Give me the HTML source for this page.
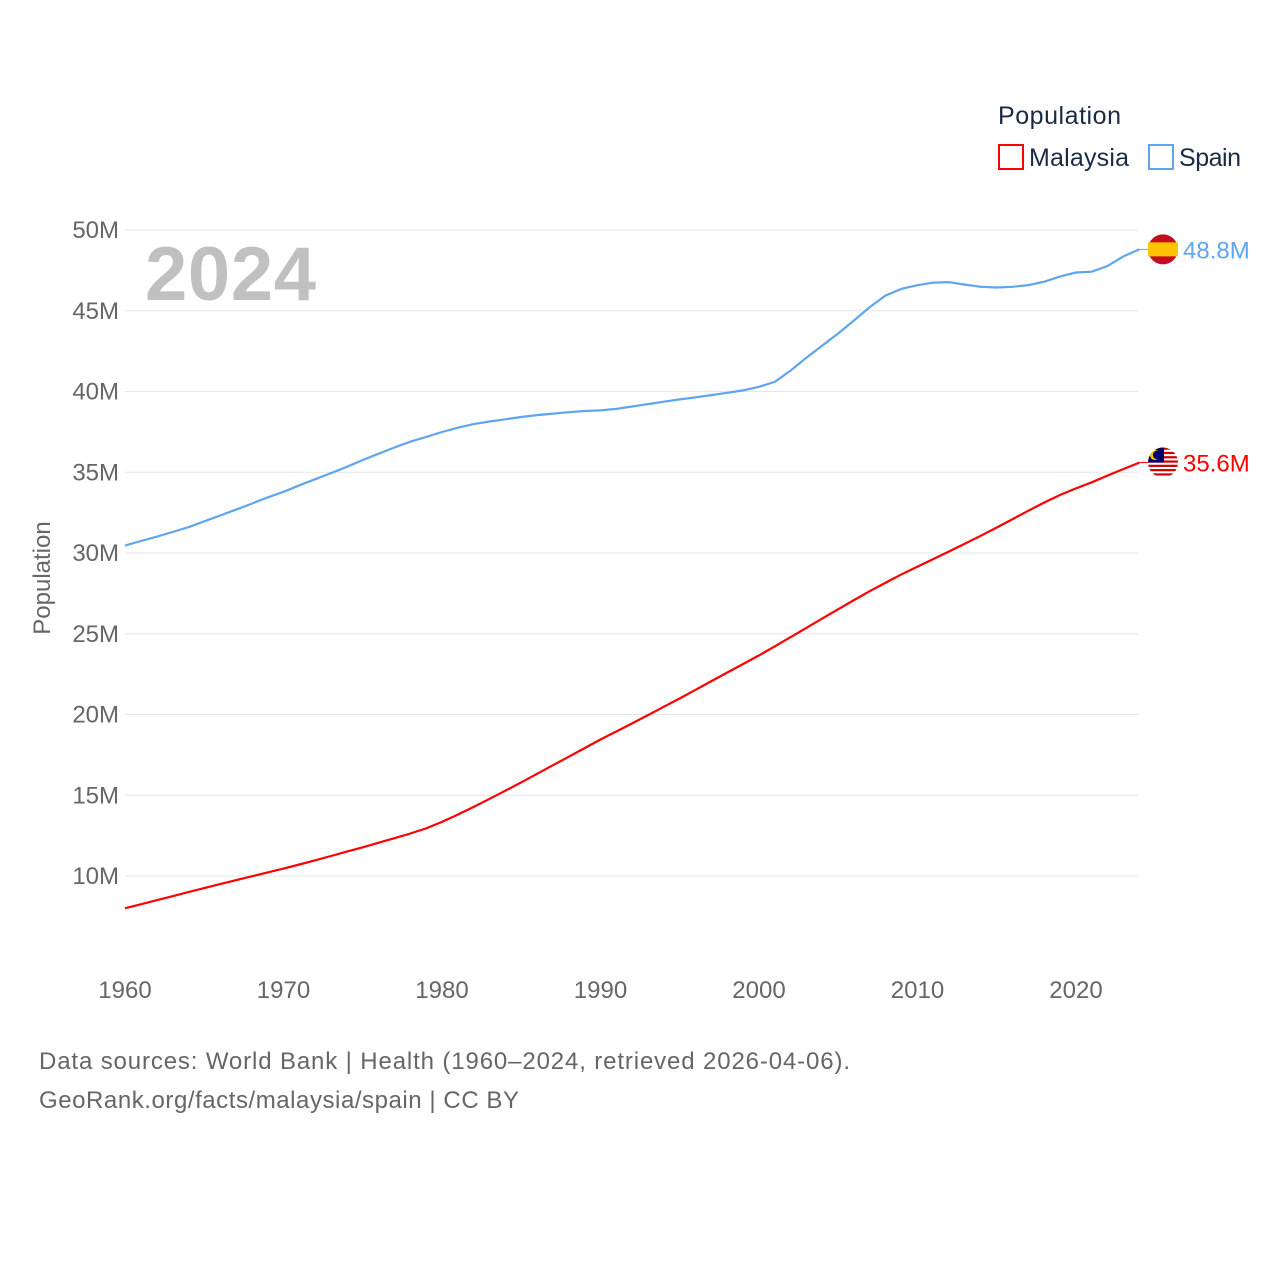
<!DOCTYPE html>
<html><head><meta charset="utf-8"><style>
body{margin:0;background:#fff;font-family:"Liberation Sans",sans-serif}
svg text{font-family:"Liberation Sans",sans-serif}
</style></head><body>
<svg id="chart" width="1280" height="1280" viewBox="0 0 1280 1280" xmlns="http://www.w3.org/2000/svg">
<rect width="1280" height="1280" fill="#fff"/>
<g id="grid"></g><g id="yticks"></g><g id="xticks"></g><g id="lines"></g>
<text x="145" y="300" font-size="76" font-weight="bold" fill="#c0c0c0" textLength="171">2024</text>
<text transform="translate(50,578) rotate(-90)" text-anchor="middle" font-size="24" fill="#666">Population</text>
<text x="998" y="124" font-size="25" fill="#1a2a44" textLength="123">Population</text>
<g><rect x="999" y="145" width="24" height="24" fill="none" stroke="#f00" stroke-width="2"/><text x="1029" y="166" font-size="25" fill="#1a2a44" textLength="100">Malaysia</text></g>
<g><rect x="1149" y="145" width="24" height="24" fill="none" stroke="#5ea5ee" stroke-width="2"/><text x="1179" y="166" font-size="25" fill="#1a2a44" textLength="62">Spain</text></g>
<text x="39" y="1069" font-size="24" fill="#666" textLength="811">Data sources: World Bank | Health (1960–2024, retrieved 2026-04-06).</text>
<text x="39" y="1108" font-size="24" fill="#666" textLength="480">GeoRank.org/facts/malaysia/spain | CC BY</text>
</svg>
<script>
const years=[];for(let y=1960;y<=2024;y++)years.push(y);
const spain=[30.46,30.74,31.01,31.30,31.60,31.96,32.32,32.68,33.06,33.44,33.79,34.19,34.57,34.95,35.34,35.76,36.15,36.53,36.89,37.19,37.49,37.76,37.98,38.14,38.28,38.42,38.54,38.63,38.72,38.79,38.83,38.92,39.07,39.22,39.37,39.51,39.64,39.78,39.92,40.07,40.29,40.60,41.30,42.10,42.85,43.60,44.40,45.23,45.95,46.36,46.58,46.74,46.77,46.62,46.48,46.44,46.48,46.59,46.80,47.13,47.37,47.42,47.78,48.37,48.80];
const malaysia=[8.00,8.25,8.50,8.75,9.00,9.25,9.50,9.74,9.98,10.22,10.46,10.71,10.97,11.24,11.51,11.78,12.06,12.34,12.63,12.95,13.35,13.80,14.28,14.78,15.28,15.80,16.33,16.86,17.39,17.92,18.45,18.95,19.45,19.96,20.48,21.00,21.53,22.07,22.60,23.13,23.66,24.22,24.79,25.37,25.95,26.52,27.09,27.64,28.17,28.68,29.16,29.63,30.10,30.58,31.07,31.58,32.10,32.62,33.13,33.60,34.00,34.38,34.80,35.20,35.60];
const yTickVals=[10,15,20,25,30,35,40,45,50];
const yTickLabels=["10M","15M","20M","25M","30M","35M","40M","45M","50M"];
const xTickVals=[1960,1970,1980,1990,2000,2010,2020];
const NS="http://www.w3.org/2000/svg";
const X=y=>125+(y-1960)*15.85;
const Y=v=>1037.5-v*16.15;
function mk(tag,attrs,parent){const e=document.createElementNS(NS,tag);for(const k in attrs)e.setAttribute(k,attrs[k]);parent.appendChild(e);return e;}
const grid=document.getElementById('grid'),yt=document.getElementById('yticks'),xt=document.getElementById('xticks'),lines=document.getElementById('lines');
yTickVals.forEach((v,i)=>{
 const l=mk('line',{x1:125,x2:1138,y1:Y(v),y2:Y(v),stroke:'#e6e6e6','stroke-width':1},grid);
 
 
 const t=mk('text',{x:119,y:Y(v)+8,'text-anchor':'end','font-size':24,fill:'#666'},yt);
 t.textContent=yTickLabels[i];
 
 
});
xTickVals.forEach(v=>{
 const t=mk('text',{x:X(v),y:998,'text-anchor':'middle','font-size':24,fill:'#666'},xt);
 t.textContent=String(v);
 
 
});
function series(vals,color,name){
 const d=vals.map((v,i)=>(i?'L':'M')+X(years[i]).toFixed(1)+','+Y(v).toFixed(1)).join(' ');
 const p=mk('path',{d:d,fill:'none',stroke:color,'stroke-width':2.2},lines);
 
 
 const last=vals[vals.length-1],lx=X(years[years.length-1]),ly=Y(last);
 mk('line',{x1:lx,x2:1150,y1:ly,y2:ly,stroke:color,'stroke-width':1},lines);
 const t=mk('text',{x:1183,y:ly+9,'font-size':24,fill:color},lines);
 t.textContent=last.toFixed(1)+'M';
 
 
 return ly;
}
const sy=series(spain,'#5ea5ee','spain');
const my=series(malaysia,'#ff0000','malaysia');
const fs=mk('g',{},lines);


mk('circle',{cx:1163,cy:sy,r:15,fill:'#c60b1e'},fs);
mk('rect',{x:1148,y:sy-7,width:30,height:14,fill:'#ffc400'},fs);
const fm=mk('g',{},lines);


const cp=mk('clipPath',{id:'mc'},fm);
mk('circle',{cx:1163,cy:my,r:15},cp);
const mg=mk('g',{'clip-path':'url(#mc)'},fm);
mk('rect',{x:1148,y:my-15,width:30,height:30,fill:'#fff'},mg);
for(let i=0;i<7;i++)mk('rect',{x:1148,y:my-15+i*4.3,width:30,height:2.2,fill:'#cc0001'},mg);
mk('rect',{x:1148,y:my-15,width:16,height:15,fill:'#010066'},mg);
mk('circle',{cx:1155,cy:my-7.5,r:5,fill:'#fc0'},mg);
mk('circle',{cx:1157,cy:my-7.5,r:4.2,fill:'#010066'},mg);
</script>
</body></html>
